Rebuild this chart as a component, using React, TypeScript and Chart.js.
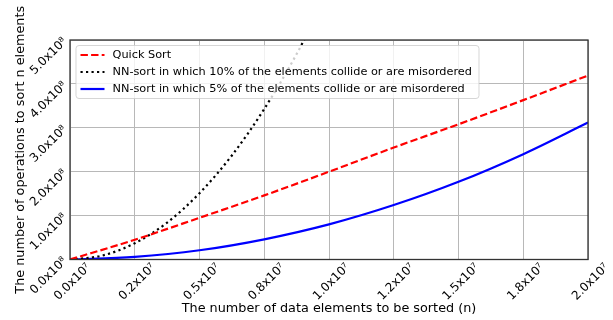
import React, { useEffect, useRef } from "react";
import { Chart, registerables } from "chart.js";

Chart.register(...registerables);

// ---- data ----
const xValues = [0, 2.5e6, 5e6, 7.5e6, 1e7, 1.25e7, 1.5e7, 1.75e7, 2e7];
const quickSortOps = [0, 0.45e8, 0.95e8, 1.46e8, 2.0e8, 2.55e8, 3.08e8, 3.63e8, 4.19e8];
const nn5Ops = [0, 0.06e8, 0.21e8, 0.46e8, 0.8e8, 1.24e8, 1.77e8, 2.4e8, 3.12e8];
const nn10XValues = [0, 1.25e6, 2.5e6, 3.75e6, 5e6, 6.25e6, 7.5e6, 8.75e6, 1e7];
const nn10Ops = [0, 0.09e8, 0.37e8, 0.84e8, 1.51e8, 2.37e8, 3.43e8, 4.68e8, 6.13e8];

const seriesLabels = [
  "Quick Sort",
  "NN-sort in which 10% of the elements collide or are misordered",
  "NN-sort in which 5% of the elements collide or are misordered",
];
const xTickLabels = ["0.0x10⁷", "0.2x10⁷", "0.5x10⁷", "0.8x10⁷", "1.0x10⁷", "1.2x10⁷", "1.5x10⁷", "1.8x10⁷", "2.0x10⁷"];
const yTickLabels = ["0.0x10⁸", "1.0x10⁸", "2.0x10⁸", "3.0x10⁸", "4.0x10⁸", "5.0x10⁸"];
const xAxisTitle = "The number of data elements to be sorted (n)";
const yAxisTitle = "The number of operations to sort n elements";

const FONT = "'DejaVu Sans', sans-serif";

const frameAndLegend = {
  id: "frameAndLegend",
  afterDatasetsDraw(chart: any) {
    const { ctx, chartArea: ca } = chart;
    ctx.save();
    ctx.strokeStyle = "#333";
    ctx.lineWidth = 1.3;
    ctx.strokeRect(ca.left, ca.top, ca.right - ca.left, ca.bottom - ca.top);
    ctx.restore();
  },
  afterDraw(chart: any) {
    const { ctx, chartArea: ca } = chart;
    const bx = ca.left + 6;
    const by = ca.top + 5.5;
    const bw = 403;
    const bh = 53;
    ctx.save();
    ctx.beginPath();
    const r = 3;
    ctx.moveTo(bx + r, by);
    ctx.lineTo(bx + bw - r, by);
    ctx.arcTo(bx + bw, by, bx + bw, by + r, r);
    ctx.lineTo(bx + bw, by + bh - r);
    ctx.arcTo(bx + bw, by + bh, bx + bw - r, by + bh, r);
    ctx.lineTo(bx + r, by + bh);
    ctx.arcTo(bx, by + bh, bx, by + bh - r, r);
    ctx.lineTo(bx, by + r);
    ctx.arcTo(bx, by, bx + r, by, r);
    ctx.closePath();
    ctx.fillStyle = "rgba(255,255,255,0.8)";
    ctx.fill();
    ctx.strokeStyle = "rgba(204,204,204,0.8)";
    ctx.lineWidth = 1;
    ctx.stroke();

    const rowY = [by + 9.5, by + 26.5, by + 43.5];
    chart.data.datasets.forEach((ds: any, i: number) => {
      const y = rowY[i];
      ctx.beginPath();
      ctx.setLineDash(ds.borderDash || []);
      ctx.lineCap = "butt";
      ctx.strokeStyle = ds.borderColor;
      ctx.lineWidth = ds.borderWidth;
      ctx.moveTo(bx + 4.5, y);
      ctx.lineTo(bx + 28.5, y);
      ctx.stroke();
      ctx.setLineDash([]);
      ctx.fillStyle = "#000";
      ctx.font = `11.3px ${FONT}`;
      ctx.textBaseline = "middle";
      ctx.textAlign = "left";
      ctx.fillText(ds.label, bx + 36.5, y);
    });
    ctx.restore();
  },
};

export default function App() {
  const canvasRef = useRef<HTMLCanvasElement | null>(null);

  useEffect(() => {
    if (!canvasRef.current) return;
    Chart.defaults.color = "#000";
    const chart = new Chart(canvasRef.current, {
      type: "line",
      data: {
        datasets: [
          {
            label: seriesLabels[0],
            data: xValues.map((x, i) => ({ x, y: quickSortOps[i] })),
            borderColor: "#ff0000",
            borderWidth: 2.2,
            borderDash: [7.4, 3.2],
            pointRadius: 0,
            cubicInterpolationMode: "monotone",
            fill: false,
          },
          {
            label: seriesLabels[1],
            data: nn10XValues.map((x, i) => ({ x, y: nn10Ops[i] })),
            borderColor: "#000000",
            borderWidth: 2.2,
            borderDash: [2.2, 3.3],
            pointRadius: 0,
            cubicInterpolationMode: "monotone",
            fill: false,
          },
          {
            label: seriesLabels[2],
            data: xValues.map((x, i) => ({ x, y: nn5Ops[i] })),
            borderColor: "#0000ff",
            borderWidth: 2.2,
            pointRadius: 0,
            cubicInterpolationMode: "monotone",
            fill: false,
          },
        ],
      },
      options: {
        responsive: false,
        animation: false,
        layout: { padding: { left: 0, right: 25, top: 40, bottom: 0 } },
        plugins: { legend: { display: false }, tooltip: { enabled: false } },
        scales: {
          x: {
            type: "linear",
            min: 0,
            max: 2e7,
            afterFit: (s: any) => {
              s.height = 60.5;
            },
            grid: { color: "#b8b8b8", lineWidth: 1, drawTicks: false },
            border: { display: false },
            ticks: {
              stepSize: 2.5e6,
              autoSkip: false,
              minRotation: 45,
              maxRotation: 45,
              padding: 1,
              labelOffset: 19,
              font: { family: FONT, size: 12 },
              color: "#000",
              callback: (v: any) => xTickLabels[Math.round(Number(v) / 2.5e6)] ?? "",
            },
            title: {
              display: true,
              text: xAxisTitle,
              font: { family: FONT, size: 12.8 },
              color: "#000",
              padding: { top: 0, bottom: 3.3 },
            },
          },
          y: {
            type: "linear",
            min: 0,
            max: 5e8,
            afterFit: (s: any) => {
              s.width = 70;
            },
            grid: { color: "#b8b8b8", lineWidth: 1, drawTicks: false },
            border: { display: false },
            ticks: {
              stepSize: 1e8,
              autoSkip: false,
              minRotation: 45,
              maxRotation: 45,
              padding: 5,
              font: { family: FONT, size: 12 },
              color: "#000",
              callback: (v: any) => yTickLabels[Math.round(Number(v) / 1e8)] ?? "",
            },
            title: {
              display: true,
              text: yAxisTitle,
              font: { family: FONT, size: 12.8 },
              color: "#000",
              padding: { top: 12.6, bottom: 0 },
            },
          },
        },
      },
      plugins: [frameAndLegend],
    } as any);
    return () => chart.destroy();
  }, []);

  return (
    <div style={{ position: "fixed", left: 0, top: 0, width: 613, height: 320, background: "#fff" }}>
      <canvas ref={canvasRef} width={613} height={320} style={{ display: "block" }} />
    </div>
  );
}
